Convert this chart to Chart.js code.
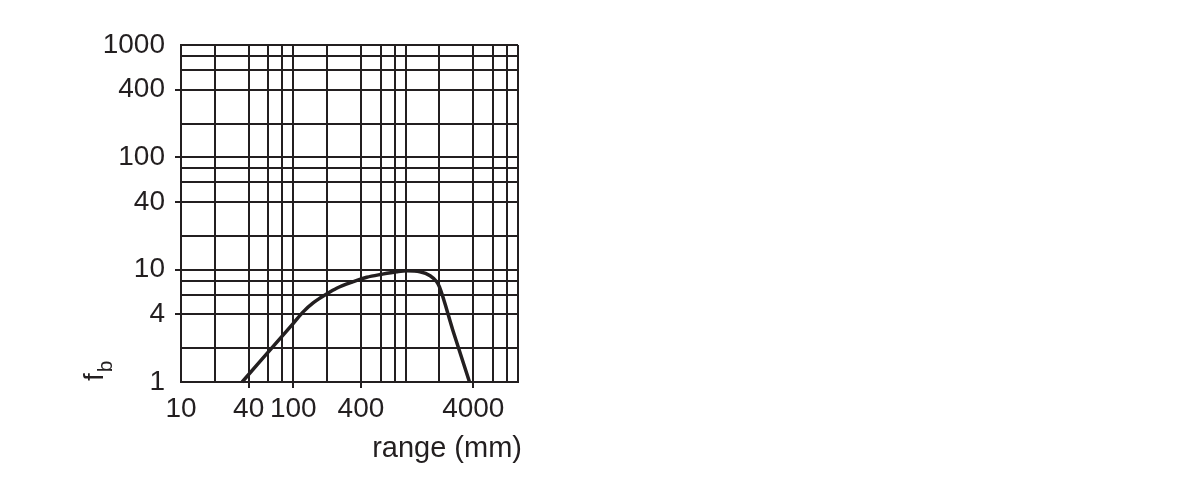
<!DOCTYPE html>
<html>
<head>
<meta charset="utf-8">
<script src="https://cdn.jsdelivr.net/npm/chart.js@4.4.0/dist/chart.umd.min.js"></script>
<style>
  html, body { margin: 0; padding: 0; background: #ffffff; }
  #wrap { width: 1199px; height: 496px; }
</style>
</head>
<body>
<div id="wrap"><canvas id="c" width="1199" height="496"></canvas></div>
<script>
// ---- data ----
const xGridValues = [10, 20, 40, 60, 80, 100, 200, 400, 600, 800, 1000, 2000, 4000, 6000, 8000, 10000];
const xLabelValues = [10, 40, 100, 400, 4000];
const yGridValues = [1, 2, 4, 6, 8, 10, 20, 40, 60, 80, 100, 200, 400, 600, 800, 1000];
const yLabelValues = [1, 4, 10, 40, 100, 400, 1000];
const rangeMm = [35, 100, 123, 151, 198, 243, 342, 450, 612, 832, 1020, 1340, 1650, 1890, 1995, 2655, 3700];
const fbValues = [1, 3.33, 4.23, 5.08, 6.07, 6.83, 7.81, 8.55, 9.1, 9.59, 9.79, 9.59, 8.84, 7.81, 7.05, 2.8, 1];
const xTitle = 'range (mm)';
const yTitleMain = 'f';
const yTitleSub = 'b';

const INK = '#231f20';
const FONT = "'Liberation Sans', Arial, Helvetica, sans-serif";

const titlePlugin = {
  id: 'titles',
  afterDraw(chart) {
    const ctx = chart.ctx;
    const area = chart.chartArea;
    ctx.save();
    ctx.fillStyle = INK;
    // x title, right aligned
    ctx.font = '29px ' + FONT;
    ctx.textAlign = 'right';
    ctx.textBaseline = 'alphabetic';
    ctx.fillText(xTitle, area.right + 4, area.bottom + 75);
    // y title rotated with subscript
    ctx.translate(area.left - 78, area.bottom - 1);
    ctx.rotate(-Math.PI / 2);
    ctx.textAlign = 'left';
    ctx.font = '28px ' + FONT;
    ctx.fillText(yTitleMain, 0, 0);
    const w = ctx.measureText(yTitleMain).width;
    ctx.font = '21px ' + FONT;
    ctx.fillText(yTitleSub, w + 1, 9);
    ctx.restore();
  }
};

new Chart(document.getElementById('c'), {
  type: 'line',
  data: {
    datasets: [{
      data: rangeMm.map((x, i) => ({ x: x, y: fbValues[i] })),
      borderColor: INK,
      borderWidth: 3.5,
      pointRadius: 0,
      fill: false,
      cubicInterpolationMode: 'monotone',
      clip: false
    }]
  },
  options: {
    responsive: false,
    devicePixelRatio: 1,
    animation: false,
    layout: { padding: { left: 0, top: 45, right: 681, bottom: 0 } },
    plugins: { legend: { display: false }, tooltip: { enabled: false } },
    scales: {
      x: {
        type: 'logarithmic',
        min: 10,
        max: 10000,
        afterBuildTicks: (s) => { s.ticks = xGridValues.map(v => ({ value: v })); },
        afterFit: (s) => { s.height = 114; },
        ticks: {
          autoSkip: false, maxRotation: 0, minRotation: 0, padding: 4,
          color: INK,
          font: { family: FONT, size: 28 },
          callback: (v) => xLabelValues.includes(v) ? String(v) : ''
        },
        grid: {
          color: INK, lineWidth: 2, tickLength: 6, tickWidth: 2,
          tickColor: (c) => (c.tick && xLabelValues.includes(c.tick.value) && c.tick.value !== 10) ? INK : 'rgba(0,0,0,0)'
        },
        border: { color: INK, width: 2 }
      },
      y: {
        type: 'logarithmic',
        min: 1,
        max: 1000,
        afterBuildTicks: (s) => { s.ticks = yGridValues.map(v => ({ value: v })); },
        afterFit: (s) => { s.width = 181; },
        ticks: {
          autoSkip: false, padding: 10,
          color: INK,
          font: { family: FONT, size: 28 },
          callback: (v) => yLabelValues.includes(v) ? String(v) : ''
        },
        grid: {
          color: INK, lineWidth: 2, tickLength: 6, tickWidth: 2,
          tickColor: (c) => (c.tick && yLabelValues.includes(c.tick.value) && c.tick.value !== 1 && c.tick.value !== 1000) ? INK : 'rgba(0,0,0,0)'
        },
        border: { color: INK, width: 2 }
      }
    }
  },
  plugins: [titlePlugin]
});
</script>
</body>
</html>
